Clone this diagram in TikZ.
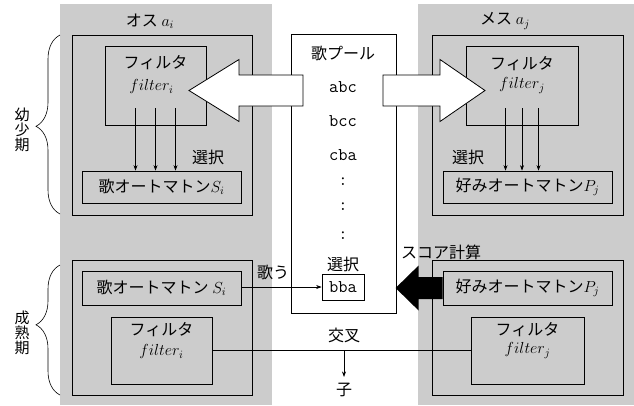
\RequirePackage{fix-cm}
\documentclass[tikz,border=0pt]{standalone}
\usepackage{fontspec}
\newfontfamily\jp{Noto Sans CJK JP}
\newfontfamily\pooltt{Latin Modern Mono}[Scale=1.12]
\usetikzlibrary{decorations.pathreplacing,arrows.meta,calc}
\begin{document}
\begin{tikzpicture}[x=1pt,y=-1pt,
  font={\jp\fontsize{16}{19}\selectfont},
  panel/.style={fill=black!20,draw=none},
  frame/.style={draw,line width=0.8pt,inner sep=0pt},
  box/.style={draw,line width=0.8pt,inner sep=0pt},
  lbl/.style={inner sep=0pt},
  tt/.style={inner sep=0pt,font={\pooltt\fontsize{16}{19}\selectfont}},
  arr/.style={-{Stealth[length=5.5pt,width=4pt]},line width=0.6pt},
  brc/.style={decorate,line width=0.6pt},
  vlab/.style={inner sep=0pt,align=center,font={\jp\fontsize{15}{15}\selectfont}},
  blockarrow/.style={draw,fill=white,line width=0.8pt,line join=miter}
]
\useasboundingbox (0,0) rectangle (634,405);

% gray panels
\fill[panel] (60,4) rectangle (272,405);
\fill[panel] (418,4) rectangle (634,405);
\node[lbl] (male) at (150,21) {オス $a_i$};
\node[lbl] (female) at (505,21) {メス $a_j$};

% frames
\node[frame,minimum width=180pt,minimum height=180pt] (lu) at (162,125) {};
\node[frame,minimum width=191pt,minimum height=180pt] (ru) at (527.5,125) {};
\node[frame,minimum width=180pt,minimum height=135pt] (ll) at (162,327.5) {};
\node[frame,minimum width=191pt,minimum height=135pt] (rl) at (527.5,327.5) {};

% upper left
\node[box,minimum width=101pt,minimum height=79pt] (fi1) at (155.5,85.5) {};
\node[lbl] (fi1a) at ($(fi1.north)+(0,17)$) {フィルタ};
\node[lbl] (fi1b) at ($(fi1.north)+(-4,41)$) {$filter_i$};
\node[box,minimum width=159pt,minimum height=32pt] (sa1) at (161.5,187) {歌オートマトン$S_i$};
\foreach \d in {-20,0,20}
  \draw[arr] ([xshift=\d pt,yshift=17pt]fi1.south) -- ([xshift=\d pt]fi1.south |- sa1.north);
\node[lbl] (sel1) at (208,157) {選択};

% upper right
\node[box,minimum width=112pt,minimum height=79pt] (fj1) at (522,85.5) {};
\node[lbl] (fj1a) at ($(fj1.north)+(0,18)$) {フィルタ};
\node[lbl] (fj1b) at ($(fj1.north)+(0,40)$) {$filter_j$};
\node[box,minimum width=169pt,minimum height=32pt] (pb1) at (527.5,187) {好みオートマトン$P_j$};
\foreach \d in {-16.5,0,16.5}
  \draw[arr] ([xshift=\d pt,yshift=17pt]fj1.south) -- ([xshift=\d pt]fj1.south |- pb1.north);
\node[lbl] (sel2) at (468,157) {選択};

% lower left
\node[box,minimum width=159pt,minimum height=34pt] (sa2) at (161.5,288) {歌オートマトン $S_i$};
\node[box,minimum width=101pt,minimum height=67pt] (fi2) at (161.5,350.5) {};
\node[lbl] (fi2a) at ($(fi2.north)+(0,13)$) {フィルタ};
\node[lbl] (fi2b) at ($(fi2.north)+(0,35)$) {$filter_i$};

% lower right
\node[box,minimum width=169pt,minimum height=34pt] (pb2) at (527.5,288) {好みオートマトン$P_j$};
\node[box,minimum width=113pt,minimum height=67pt] (fj2) at (527.5,350.5) {};
\node[lbl] (fj2a) at ($(fj2.north)+(0,13)$) {フィルタ};
\node[lbl] (fj2b) at ($(fj2.north)+(0,34)$) {$filter_j$};

% song pool
\node[box,fill=white,minimum width=105pt,minimum height=279pt] (pool) at (343.5,173.5) {};
\node[lbl] (poolt) at (343,53) {歌プール};
\node[tt] (s1) at (343,87) {abc};
\node[tt] (s2) at (343,121) {bcc};
\node[tt] (s3) at (343,155) {cba};
\node[tt] (c1) at (343,182) {:};
\node[tt] (c2) at (343,207) {:};
\node[tt] (c3) at (343,236) {:};
\node[lbl] (sel3) at (343,264) {選択};
\node[box,fill=white,minimum width=42pt,minimum height=26pt,font={\pooltt\fontsize{16}{19}\selectfont}] (bba) at (343,287) {bba};

% white block arrows
\draw[blockarrow] (303,75) -- (239,75) -- (239,59.5) -- (189,90.5) -- (239,121.5) -- (239,106) -- (303,106) -- cycle;
\draw[blockarrow] (383,75) -- (440,75) -- (440,59.5) -- (485,90.5) -- (440,121.5) -- (440,106) -- (383,106) -- cycle;

% sing
\node[lbl] (sing) at (273,272) {歌う};
\draw[arr] (sa2.east |- bba.west) -- (bba.west);

% score (black arrow)
\node[lbl] (score) at (441,252) {スコア計算};
\fill (pb2.west) ++(0,-11) -- ++(-24,0) -- ++(0,-11.5) -- ++(-23,22.5) -- ++(23,22.5) -- ++(0,-11.5) -- ++(24,0) -- cycle;

% crossover
\draw[line width=0.8pt] (fi2.east) -- (fj2.west);
\coordinate (cx) at (344,350.5);
\node[lbl] (cross) at (344,335) {交叉};
\node[lbl] (child) at (344,390) {子};
\draw[arr] (cx) -- ([yshift=6pt]child.north);

% braces
\draw[brc,decoration={brace,amplitude=24pt,aspect=0.49}] (60,214) -- (60,35);
\draw[brc,decoration={brace,amplitude=24pt,aspect=0.54}] (60,395) -- (60,265);
\node[vlab] (young) at (22,130) {幼\\少\\期};
\node[vlab] (adult) at (22,333) {成\\熟\\期};
\end{tikzpicture}
\end{document}
